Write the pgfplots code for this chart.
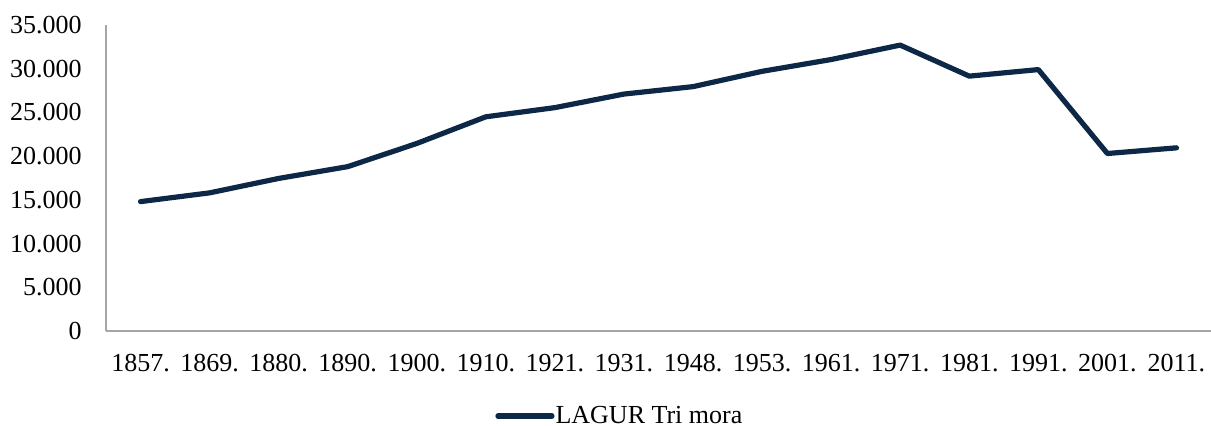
\documentclass[border=0pt]{standalone}
\usepackage{fontspec}
\setmainfont{Liberation Serif}
\usepackage{pgfplots}
\pgfplotsset{compat=1.18}
\definecolor{navy}{HTML}{0D2847}
\definecolor{axgray}{HTML}{A6A6A6}
\begin{document}
\begin{tikzpicture}
\begin{axis}[
  name=ax,
  scale only axis,
  width=552.5bp, height=153bp,
  xmin=-0.5, xmax=15.5,
  ymin=0, ymax=35000,
  ytick={0,5000,10000,15000,20000,25000,30000,35000},
  xtick={0,...,15},
  xticklabels={1857.,1869.,1880.,1890.,1900.,1910.,1921.,1931.,1948.,1953.,1961.,1971.,1981.,1991.,2001.,2011.},
  scaled y ticks=false,
  /pgf/number format/.cd, 1000 sep={.}, assume math mode=true, /pgfplots/.cd,
  axis lines*=left,
  axis line style={draw=axgray, line width=0.75bp, -},
  major tick length=0pt,
  tick style={draw=none},
  ticklabel style={font=\fontsize{13bp}{15bp}\selectfont, inner sep=0pt},
  yticklabel style={anchor=east, xshift=-12bp},
  xticklabel style={anchor=north, yshift=-11.5bp},
  legend style={at={(0.352,-0.278)}, anchor=west, draw=none, fill=none, inner sep=0pt,
    font=\fontsize{13bp}{15bp}\selectfont,
    nodes={inner sep=0.5bp}},
  legend image code/.code={\draw[#1, line cap=round] (0bp,0bp) -- (27bp,0bp);},
  clip=false,
]
\addplot[navy, line width=2.6bp, line join=round, line cap=round] coordinates {
(0,14800) (1,15800) (2,17450) (3,18800) (4,21450) (5,24500) (6,25550) (7,27100)
(8,27950) (9,29700) (10,31050) (11,32700) (12,29150) (13,29900) (14,20300) (15,20950)
};
\addlegendentry{LAGUR Tri mora}
\end{axis}
\pgfresetboundingbox
\path[use as bounding box] ([shift={(-53bp,-47.5bp)}]ax.south west) rectangle ([shift={(552.5bp,165.5bp)}]ax.south west);
\end{tikzpicture}
\end{document}
